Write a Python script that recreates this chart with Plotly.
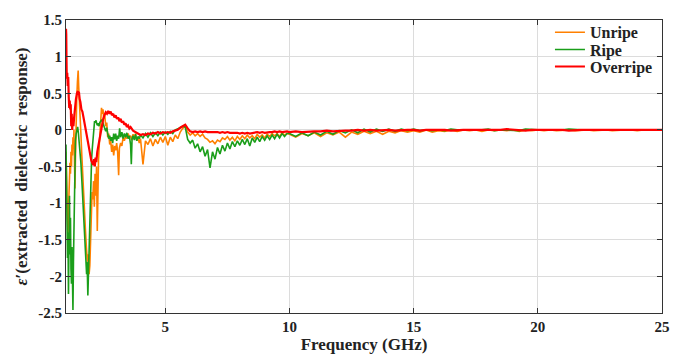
import numpy as np
import plotly.graph_objects as go

# ---------------- data ----------------
series_names = ["Unripe", "Ripe", "Overripe"]
x_tick_vals = [5, 10, 15, 20, 25]
y_tick_vals = [-2.5, -2, -1.5, -1, -0.5, 0, 0.5, 1, 1.5]
y_tick_text = ["-2.5", "-2", "-1.5", "-1", "-0.5", "0", "0.5", "1", "1.5"]

# frequency sampling shared by all series above 4 GHz
freq_mid = np.arange(40, 100) / 10.0     # 4.0 ... 9.9 GHz
freq_tail = np.arange(40, 101) / 4.0     # 10.0 ... 25.0 GHz

# Unripe
unripe_f_head = [1.00,1.02,1.04,1.06,1.08,1.10,1.12,1.14,1.16,1.18,
                 1.20,1.22,1.24,1.26,1.28,1.30,1.32,1.34,1.36,1.38,
                 1.40,1.43,1.46,1.49,1.51,1.54,1.57,1.60,1.63,1.66,
                 1.70,1.74,1.78,1.82,1.86,1.90,1.93,1.96,1.99,2.02,
                 2.05,2.08,2.11,2.14,2.17,2.20,2.23,2.26,2.28,2.31,
                 2.34,2.37,2.40,2.43,2.46,2.49,2.52,2.56,2.60,2.64,
                 2.68,2.72,2.76,2.80,2.84,2.88,2.92,2.96,3.00,3.04,
                 3.08,3.12,3.15,3.20,3.25,3.30,3.35,3.40,3.45,3.50,
                 3.55,3.60,3.65,3.70,3.75,3.80,3.85,3.90,3.95]
unripe_v_head = [-0.30,-0.55,-0.90,-1.20,-1.45,-1.10,-0.70,-0.90,-0.45,-0.60,
                 -0.30,-0.50,-0.20,-0.35,-0.10,-0.25,0.00,-0.30,-0.80,-0.40,
                 0.10,0.40,0.65,0.81,0.60,0.30,0.10,-0.05,-0.30,-0.55,
                 -0.85,-1.10,-1.35,-1.60,-1.80,-1.70,-1.97,-1.85,-1.50,-1.10,
                 -0.85,-0.95,-0.70,-1.05,-0.60,-0.90,-0.50,-1.38,-0.55,-0.40,
                 -0.20,0.05,0.20,0.30,0.22,0.28,0.15,0.20,0.05,0.10,
                 -0.10,-0.05,-0.20,-0.15,-0.30,-0.20,-0.35,-0.22,-0.28,-0.18,
                 -0.30,-0.62,-0.25,-0.18,-0.22,-0.10,-0.15,-0.08,-0.12,-0.05,
                 -0.10,-0.08,-0.14,-0.06,-0.12,-0.05,-0.15,-0.10,-0.18]
unripe_v_mid = [-0.12,-0.47,-0.15,-0.20,-0.12,-0.22,-0.13,-0.19,-0.10,-0.17,
                -0.09,-0.21,-0.10,-0.16,-0.07,-0.12,-0.03,0.02,0.05,-0.03,
                -0.07,-0.04,-0.08,-0.05,-0.09,-0.06,-0.11,-0.13,-0.17,-0.15,
                -0.19,-0.14,-0.16,-0.11,-0.13,-0.09,-0.14,-0.10,-0.15,-0.09,
                -0.13,-0.08,-0.12,-0.07,-0.11,-0.08,-0.12,-0.06,-0.10,-0.07,
                -0.11,-0.06,-0.09,-0.05,-0.08,-0.05,-0.09,-0.04,-0.07,-0.05]
unripe_v_tail = [-0.06,-0.10,-0.05,-0.08,-0.04,-0.09,-0.04,-0.07,-0.03,-0.10,
                 -0.03,-0.06,-0.02,-0.05,-0.02,-0.06,-0.02,-0.04,-0.01,-0.03,
                 -0.01,-0.03,0.00,-0.03,-0.01,-0.02,0.00,-0.02,0.00,-0.01,
                 0.00,-0.02,0.00,-0.01,0.00,-0.01,0.00,-0.02,0.00,-0.01,
                 0.00,-0.01,0.00,-0.01,0.00,0.00,-0.01,0.00,0.00,-0.01,
                 0.00,0.00,-0.01,0.00,0.00,0.00,-0.01,0.00,0.00,0.00,
                 0.00]

# Ripe
ripe_f_head = [1.00,1.02,1.04,1.06,1.08,1.10,1.12,1.14,1.16,1.18,
               1.20,1.22,1.24,1.26,1.28,1.30,1.32,1.34,1.36,1.38,
               1.41,1.44,1.47,1.50,1.53,1.56,1.60,1.64,1.68,1.72,
               1.76,1.80,1.83,1.85,1.88,1.91,1.94,1.97,2.00,2.03,
               2.06,2.09,2.12,2.15,2.18,2.21,2.24,2.27,2.30,2.33,
               2.36,2.40,2.44,2.48,2.52,2.56,2.60,2.64,2.68,2.72,
               2.76,2.80,2.84,2.88,2.92,2.96,3.00,3.04,3.08,3.12,
               3.16,3.20,3.25,3.30,3.35,3.40,3.45,3.50,3.55,3.60,
               3.63,3.66,3.70,3.75,3.80,3.85,3.90,3.95]
ripe_v_head = [-0.20,-0.80,-1.60,-1.75,-1.40,-2.24,-1.50,-0.90,-1.70,-1.20,
               -1.90,-2.10,-1.60,-2.00,-2.46,-1.80,-1.20,-0.70,-0.35,-0.15,
               -0.05,0.02,0.04,-0.05,-0.15,-0.30,-0.45,-0.70,-0.95,-1.20,
               -1.45,-1.70,-1.97,-1.80,-2.26,-1.90,-1.45,-1.00,-0.65,-0.40,
               -0.25,-0.10,0.05,0.12,0.10,0.13,0.08,0.06,0.09,0.05,
               0.10,0.12,0.14,0.10,0.07,0.02,-0.02,0.03,-0.05,-0.12,
               -0.08,-0.15,-0.10,-0.18,-0.05,-0.13,-0.05,-0.15,-0.08,-0.12,
               0.02,-0.10,-0.03,-0.12,-0.05,-0.10,-0.04,-0.12,-0.08,-0.20,
               -0.47,-0.12,-0.08,-0.14,-0.06,-0.15,-0.09,-0.12]
ripe_v_mid = [-0.07,-0.11,-0.05,-0.10,-0.04,-0.09,-0.04,-0.08,-0.03,-0.07,
              -0.03,-0.06,-0.02,-0.05,0.00,0.01,0.03,0.05,0.04,-0.13,
              -0.18,-0.14,-0.25,-0.19,-0.30,-0.23,-0.36,-0.27,-0.52,-0.30,
              -0.40,-0.24,-0.33,-0.21,-0.29,-0.18,-0.26,-0.16,-0.23,-0.15,
              -0.21,-0.13,-0.20,-0.12,-0.22,-0.11,-0.17,-0.10,-0.16,-0.09,
              -0.14,-0.08,-0.13,-0.07,-0.12,-0.06,-0.11,-0.05,-0.09,-0.05]
ripe_v_tail = [-0.05,-0.09,-0.04,-0.08,-0.03,-0.07,-0.02,-0.06,-0.01,-0.04,
               0.00,-0.04,0.01,-0.03,0.01,-0.02,0.01,-0.02,0.01,-0.01,
               0.01,-0.01,0.00,-0.01,0.00,-0.01,0.01,0.00,0.00,-0.01,
               0.00,0.00,0.01,-0.01,0.00,0.00,0.00,-0.01,0.01,0.00,
               0.00,0.00,0.00,-0.01,0.00,0.01,0.00,0.00,0.00,0.00,
               0.00,0.00,0.00,0.00,0.01,0.00,0.00,0.00,0.00,0.00,
               0.00]

# Overripe
overripe_f_head = [1.00,1.01,1.02,1.03,1.05,1.07,1.09,1.11,1.13,1.15,
                   1.17,1.19,1.21,1.23,1.25,1.27,1.30,1.33,1.36,1.40,
                   1.44,1.48,1.50,1.52,1.55,1.58,1.62,1.66,1.70,1.74,
                   1.78,1.82,1.86,1.90,1.94,1.98,2.02,2.06,2.10,2.13,
                   2.16,2.19,2.22,2.26,2.30,2.34,2.38,2.42,2.46,2.50,
                   2.55,2.60,2.65,2.70,2.75,2.80,2.85,2.90,2.95,3.00,
                   3.05,3.10,3.15,3.20,3.25,3.30,3.35,3.40,3.45,3.50,
                   3.55,3.60,3.70,3.80,3.90]
overripe_v_head = [1.38,1.30,0.95,0.70,0.78,0.60,0.72,0.45,0.30,0.40,
                   0.28,0.35,0.05,0.22,0.00,0.15,0.05,0.18,0.30,0.42,
                   0.50,0.53,0.48,0.52,0.42,0.38,0.28,0.25,0.18,0.10,
                   0.02,-0.08,-0.12,-0.20,-0.28,-0.35,-0.42,-0.45,-0.48,-0.40,
                   -0.50,-0.38,-0.44,-0.30,-0.22,-0.12,-0.05,0.02,0.10,0.15,
                   0.20,0.24,0.22,0.26,0.22,0.25,0.20,0.22,0.17,0.20,
                   0.15,0.17,0.12,0.15,0.10,0.12,0.07,0.09,0.04,0.06,
                   0.02,0.04,-0.01,-0.03,-0.06]
overripe_v_mid = [-0.07,-0.06,-0.07,-0.05,-0.06,-0.04,-0.05,-0.03,-0.05,-0.03,
                  -0.04,-0.03,-0.04,-0.02,-0.01,0.00,0.03,0.05,0.07,0.02,
                  -0.02,-0.03,-0.02,-0.03,-0.02,-0.03,-0.02,-0.03,-0.03,-0.02,
                  -0.03,-0.03,-0.04,-0.03,-0.04,-0.03,-0.04,-0.04,-0.03,-0.04,
                  -0.05,-0.04,-0.05,-0.04,-0.05,-0.04,-0.04,-0.03,-0.04,-0.03,
                  -0.04,-0.03,-0.03,-0.03,-0.02,-0.03,-0.02,-0.03,-0.02,-0.02]
overripe_v_tail = [-0.03,-0.02,-0.03,-0.02,-0.02,-0.02,-0.01,-0.02,-0.01,-0.01,
                   -0.01,0.00,-0.01,0.00,-0.01,0.00,0.00,-0.01,0.00,0.00,
                   0.00,-0.01,0.00,0.00,0.01,0.00,-0.01,0.00,0.00,0.00,
                   0.00,-0.01,0.00,0.00,0.00,0.01,0.00,0.00,-0.01,0.00,
                   0.00,0.00,0.01,0.00,0.00,-0.01,0.00,0.00,0.00,0.00,
                   0.00,0.00,0.00,-0.01,0.00,0.00,0.00,0.00,0.00,0.00,
                   0.00]

colors = ["#FF8000", "#1A9E1A", "#FF0000"]
widths = [1.6, 1.6, 2.2]

# ---------------- figure ----------------
font_fam = "Liberation Serif, Times New Roman, serif"
series = [
    (unripe_f_head, unripe_v_head, unripe_v_mid, unripe_v_tail),
    (ripe_f_head, ripe_v_head, ripe_v_mid, ripe_v_tail),
    (overripe_f_head, overripe_v_head, overripe_v_mid, overripe_v_tail),
]
legend_ids = ["legend", "legend2", "legend3"]
legend_y = [1.016, 0.957, 0.899]

fig = go.Figure()
for name, (fh, vh, vm, vt), c, w, lg in zip(series_names, series, colors, widths, legend_ids):
    x = list(fh) + list(freq_mid) + list(freq_tail)
    y = list(vh) + list(vm) + list(vt)
    fig.add_trace(go.Scatter(x=x, y=y, mode="lines", name=name, legend=lg,
                             line=dict(color=c, width=w)))

axis_common = dict(
    showgrid=True, gridcolor="#DCDCDC", gridwidth=1,
    showline=True, linecolor="#333333", linewidth=1.2, mirror="allticks",
    ticks="inside", ticklen=5, tickcolor="#333333",
    zeroline=False,
    tickfont=dict(family=font_fam, size=15, color="#222222", weight="bold"),
)

legend_font = dict(family=font_fam, size=16, color="#222222", weight="bold")
legend_layout = {}
for lg, ly in zip(legend_ids, legend_y):
    legend_layout[lg] = dict(x=0.812, y=ly, xanchor="left", yanchor="top",
                             bgcolor="rgba(0,0,0,0)", borderwidth=0,
                             font=legend_font, itemwidth=30)

fig.update_layout(
    width=682, height=362,
    margin=dict(l=66, r=20, t=15, b=45),
    paper_bgcolor="white", plot_bgcolor="white",
    showlegend=True,
    xaxis=dict(range=[1, 25], tickvals=x_tick_vals,
               title=dict(text="Frequency (GHz)", standoff=3,
                          font=dict(family=font_fam, size=17, color="#222222", weight="bold")),
               **axis_common),
    yaxis=dict(range=[-2.5, 1.5], tickvals=y_tick_vals, ticktext=y_tick_text,
               title=dict(text="<i>ε</i>′(extracted\u00a0 dielectric\u00a0 response)", standoff=6,
                          font=dict(family=font_fam, size=17, color="#222222", weight="bold")),
               **axis_common),
    **legend_layout,
)

fig.write_html("out.html", config={"displayModeBar": False},
               post_script="document.body.style.margin='0px';")
